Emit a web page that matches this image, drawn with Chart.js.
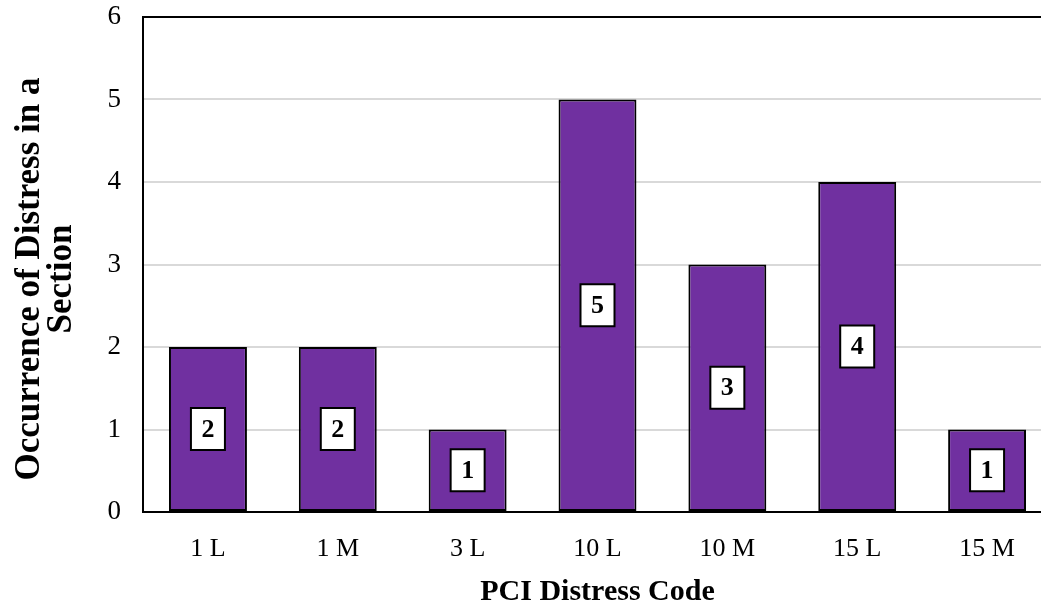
<!DOCTYPE html>
<html>
<head>
<meta charset="utf-8">
<script src="https://cdn.jsdelivr.net/npm/chart.js@4/dist/chart.umd.min.js"></script>
<style>
  html, body { margin: 0; padding: 0; background: #fff; overflow: hidden; }
  #wrap { width: 1060px; height: 607px; }
</style>
</head>
<body>
<div id="wrap"><canvas id="distressChart"></canvas></div>
<script>
const categories = ['1 L', '1 M', '3 L', '10 L', '10 M', '15 L', '15 M'];
const occurrences = [2, 2, 1, 5, 3, 4, 1];
const yMin = 0;
const yMax = 6;
const yStep = 1;
const yTitleLines = ['Occurrence of Distress in a', 'Section'];

const serif = "'Liberation Serif', 'Times New Roman', serif";

// white boxed value label in the middle of each bar
const boxLabels = {
    id: 'boxLabels',
    afterDatasetsDraw(chart) {
        const ctx = chart.ctx;
        const meta = chart.getDatasetMeta(0);
        ctx.save();
        ctx.font = 'bold 26px ' + serif;
        ctx.textAlign = 'center';
        ctx.textBaseline = 'middle';
        meta.data.forEach(function (bar, i) {
            const cx = bar.x;
            const cy = (bar.y + bar.base) / 2;
            const w = 34, h = 42;
            ctx.fillStyle = '#ffffff';
            ctx.fillRect(cx - w / 2, cy - h / 2, w, h);
            ctx.lineWidth = 2;
            ctx.strokeStyle = '#000000';
            ctx.strokeRect(cx - w / 2, cy - h / 2, w, h);
            ctx.fillStyle = '#000000';
            ctx.fillText(String(occurrences[i]), cx, cy + 1);
        });
        ctx.restore();
    }
};

// black frame around the plot area + rotated y title
const plotFrame = {
    id: 'plotFrame',
    afterDraw(chart) {
        const a = chart.chartArea;
        const ctx = chart.ctx;
        ctx.save();
        ctx.strokeStyle = '#000000';
        ctx.lineWidth = 2;
        ctx.strokeRect(a.left, a.top, a.right - a.left, a.bottom - a.top);

        ctx.translate(30, 279);
        ctx.rotate(-Math.PI / 2);
        ctx.font = 'bold 35px ' + serif;
        ctx.fillStyle = '#000000';
        ctx.textAlign = 'center';
        ctx.textBaseline = 'middle';
        yTitleLines.forEach(function (line, i) {
            ctx.fillText(line, 0, i * 32);
        });
        ctx.restore();
    }
};

const ctx = document.getElementById('distressChart').getContext('2d');
new Chart(ctx, {
    type: 'bar',
    data: {
        labels: categories,
        datasets: [{
            label: 'Occurrence',
            data: occurrences,
            backgroundColor: '#7030A0',
            borderColor: '#000000',
            borderWidth: 2,
            borderSkipped: false,
            barPercentage: 0.6,
            categoryPercentage: 1.0
        }]
    },
    options: {
        responsive: true,
        maintainAspectRatio: false,
        animation: false,
        layout: {
            padding: { top: 17, right: 8, bottom: 0, left: 0 }
        },
        plugins: {
            legend: { display: false },
            tooltip: { enabled: false }
        },
        scales: {
            x: {
                grid: { display: false, drawTicks: false },
                border: { display: true, color: '#000000', width: 2 },
                ticks: {
                    color: '#000000',
                    padding: 22,
                    font: { family: serif, size: 26 }
                },
                title: {
                    display: true,
                    text: 'PCI Distress Code',
                    color: '#000000',
                    font: { family: serif, size: 30, weight: 'bold', lineHeight: 1 },
                    padding: { top: 0, bottom: 0 }
                },
                afterFit: function (scale) {
                    scale.height = 95;
                    scale.paddingLeft = 0;
                    scale.paddingRight = 0;
                }
            },
            y: {
                min: yMin,
                max: yMax,
                grid: { color: '#d9d9d9', lineWidth: 2, drawTicks: false },
                border: { display: true, color: '#000000', width: 2 },
                ticks: {
                    stepSize: yStep,
                    color: '#000000',
                    padding: 22,
                    font: { family: serif, size: 27 }
                },
                afterFit: function (scale) {
                    scale.width = 143;
                    scale.paddingTop = 0;
                    scale.paddingBottom = 0;
                }
            }
        }
    },
    plugins: [boxLabels, plotFrame]
});
</script>
</body>
</html>
